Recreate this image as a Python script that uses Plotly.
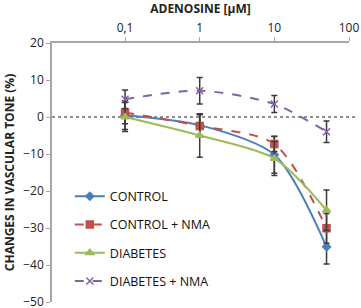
import plotly.graph_objects as go
import math

conc = [0.1, 1, 10, 50]
control = [0.5, -2.2, -10.2, -35.1]
control_err = [3.9, 3.0, 5.0, 4.6]
control_nma = [1.2, -2.4, -7.3, -30.1]
control_nma_err = [3.0, 3.0, 2.0, 4.0]
diabetes = [0.0, -5.0, -11.2, -25.2]
diabetes_err = [3.9, 5.9, 4.6, 5.5]
diabetes_nma = [4.8, 7.1, 3.5, -4.0]
diabetes_nma_err = [2.5, 3.6, 2.3, 2.9]

x_ticks = [0.1, 1, 10, 100]
x_tick_labels = ["0,1", "1", "10", "100"]
y_ticks = [20, 10, 0, -10, -20, -30, -40, -50]

series = [
    ("CONTROL", control, control_err, "#4A7EBB", "solid", "diamond", 6),
    ("CONTROL + NMA", control_nma, control_nma_err, "#C0504D", "dash", "square", 7),
    ("DIABETES", diabetes, diabetes_err, "#9BBB59", "solid", "triangle-up", 7),
    ("DIABETES + NMA", diabetes_nma, diabetes_nma_err, "#8064A2", "dash", "x-thin-open", 7),
]

fig = go.Figure()
for name, vals, errs, col, dash, sym, size in series:
    fig.add_trace(go.Scatter(
        x=conc, y=vals, name=name, legendgroup=name, mode="lines+markers",
        line=dict(color=col, width=2, dash=dash, shape="spline", smoothing=0.8),
        marker=dict(symbol=sym, size=size, color=col, line=dict(color=col, width=1.5)),
        error_y=dict(type="data", array=errs, visible=True, color="#3a3a3a", thickness=1.5, width=3),
    ))

fig.add_shape(type="line", xref="paper", yref="y", x0=0, x1=1.03, y0=0, y1=0,
              line=dict(color="#222", width=1.2, dash="dot"), layer="below")

font = "Open Sans, Liberation Sans, Arial"
fig.update_layout(
    width=361, height=308,
    margin=dict(l=52, r=12, t=43, b=6),
    paper_bgcolor="white", plot_bgcolor="white",
    font=dict(family=font, size=12, color="#222"),
    showlegend=True,
    legend=dict(x=0.06, y=0.465, xanchor="left", yanchor="top",
                font=dict(size=12.5, color="#111"), tracegroupgap=9,
                itemwidth=30, bgcolor="rgba(0,0,0,0)"),
    xaxis=dict(type="log", side="top", range=[math.log10(0.0105), 2],
               tickvals=x_ticks, ticktext=x_tick_labels, automargin=False,
               showgrid=False, zeroline=False,
               showline=True, linecolor="#a6a6a6", linewidth=1.5,
               ticks="outside", tickcolor="#a6a6a6", ticklen=4,
               tickfont=dict(size=12, color="#222"), ticklabeloverflow="allow",
               title=dict(text="<b>ADENOSINE [µM]</b>", font=dict(size=12, color="#222"), standoff=4)),
    yaxis=dict(range=[-50, 20], tickvals=y_ticks, automargin=False,
               showgrid=False, zeroline=False,
               showline=True, linecolor="#a6a6a6", linewidth=1.5,
               ticks="outside", tickcolor="#a6a6a6", ticklen=4,
               tickfont=dict(size=12, color="#222"), ticklabeloverflow="allow",
               title=dict(text="<b>CHANGES IN VASCULAR TONE (%)</b>", font=dict(size=12, color="#222"), standoff=6)),
)

fig.write_html("out.html", config={"displayModeBar": False},
               post_script="document.body.style.margin='0';document.body.style.overflow='hidden';")
